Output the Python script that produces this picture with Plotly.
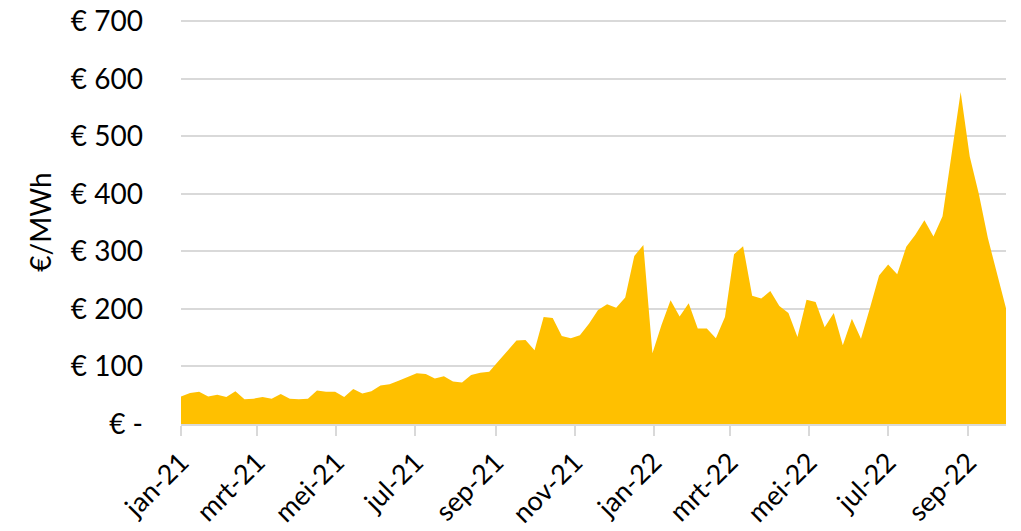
import plotly.graph_objects as go

weeks = [
    "2021-01-01", "2021-01-08", "2021-01-15", "2021-01-22", "2021-01-29",
    "2021-02-05", "2021-02-12", "2021-02-19", "2021-02-26",
    "2021-03-05", "2021-03-12", "2021-03-19", "2021-03-26",
    "2021-04-02", "2021-04-09", "2021-04-16", "2021-04-23", "2021-04-30",
    "2021-05-07", "2021-05-14", "2021-05-21", "2021-05-28",
    "2021-06-04", "2021-06-11", "2021-06-18", "2021-06-25",
    "2021-07-02", "2021-07-09", "2021-07-16", "2021-07-23", "2021-07-30",
    "2021-08-06", "2021-08-13", "2021-08-20", "2021-08-27",
    "2021-09-03", "2021-09-10", "2021-09-17", "2021-09-24",
    "2021-10-01", "2021-10-08", "2021-10-15", "2021-10-22", "2021-10-29",
    "2021-11-05", "2021-11-12", "2021-11-19", "2021-11-26",
    "2021-12-03", "2021-12-10", "2021-12-17", "2021-12-24", "2021-12-31",
    "2022-01-07", "2022-01-14", "2022-01-21", "2022-01-28",
    "2022-02-04", "2022-02-11", "2022-02-18", "2022-02-25",
    "2022-03-04", "2022-03-11", "2022-03-18", "2022-03-25",
    "2022-04-01", "2022-04-08", "2022-04-15", "2022-04-22", "2022-04-29",
    "2022-05-06", "2022-05-13", "2022-05-20", "2022-05-27",
    "2022-06-03", "2022-06-10", "2022-06-17", "2022-06-24",
    "2022-07-01", "2022-07-08", "2022-07-15", "2022-07-22", "2022-07-29",
    "2022-08-05", "2022-08-12", "2022-08-19", "2022-08-26",
    "2022-09-02", "2022-09-09", "2022-09-16", "2022-09-23", "2022-09-30",
]

price_eur_mwh = [
    48, 54, 56, 48, 51, 47, 57, 43, 44, 47,
    44, 52, 44, 43, 44, 58, 56, 56, 47, 61,
    53, 57, 67, 69, 75, 82, 88, 87, 79, 83,
    74, 72, 85, 89, 91, 109, 127, 145, 146, 128,
    186, 184, 153, 149, 154, 174, 198, 208, 202, 220,
    292, 311, 123, 172, 215, 187, 210, 166, 166, 149,
    186, 295, 309, 223, 218, 231, 205, 193, 151, 216,
    212, 168, 193, 137, 183, 148, 202, 258, 277, 260,
    308, 329, 354, 326, 361, 468, 577, 465, 400, 323,
    262, 201,
]

x_tick_dates = [
    "2021-01-01", "2021-03-01", "2021-05-01", "2021-07-01", "2021-09-01",
    "2021-11-01", "2022-01-01", "2022-03-01", "2022-05-01", "2022-07-01",
    "2022-09-01",
]
x_tick_labels = [
    "jan-21", "mrt-21", "mei-21", "jul-21", "sep-21", "nov-21",
    "jan-22", "mrt-22", "mei-22", "jul-22", "sep-22",
]
y_tick_vals = [0, 100, 200, 300, 400, 500, 600, 700]
y_tick_labels = ["€ -", "€ 100", "€ 200", "€ 300", "€ 400", "€ 500", "€ 600", "€ 700"]

GOLD = "#FFC000"
GRID = "#D9D9D9"
FONT = "Lato"

fig = go.Figure()
fig.add_trace(go.Scatter(
    x=weeks, y=price_eur_mwh,
    mode="lines", fill="tozeroy",
    line=dict(width=0, color=GOLD),
    fillcolor=GOLD,
    showlegend=False,
))

fig.update_layout(
    width=1021, height=531,
    margin=dict(l=181, r=15, t=20, b=107, autoexpand=False),
    paper_bgcolor="white", plot_bgcolor="white",
    font=dict(family=FONT, size=28, color="black"),
    xaxis=dict(
        type="date",
        range=[weeks[0], weeks[-1]],
        tickvals=x_tick_dates, ticktext=x_tick_labels,
        tickangle=-45,
        ticks="outside", ticklen=10, tickwidth=1.5, tickcolor=GRID,
        showline=True, linecolor=GRID, linewidth=1.5,
        showgrid=False, zeroline=False,
        automargin=False,
        ticklabelstandoff=0,
        tickfont=dict(family=FONT, size=27, color="black"),
    ),
    yaxis=dict(
        range=[0, 702],
        tickvals=y_tick_vals, ticktext=y_tick_labels,
        showgrid=True, gridcolor=GRID, gridwidth=1.5,
        zeroline=False, showline=False, ticks="",
        automargin=False,
        ticklabelstandoff=37,
        ticklabeloverflow="allow",
        tickfont=dict(family=FONT, size=28, color="black"),
        title=dict(text="€/MWh", standoff=11,
                   font=dict(family=FONT, size=28, color="black")),
    ),
)

fig.write_html(
    "out.html",
    config={"displayModeBar": False},
    post_script="document.body.style.margin='0';document.body.style.overflow='hidden';",
)
